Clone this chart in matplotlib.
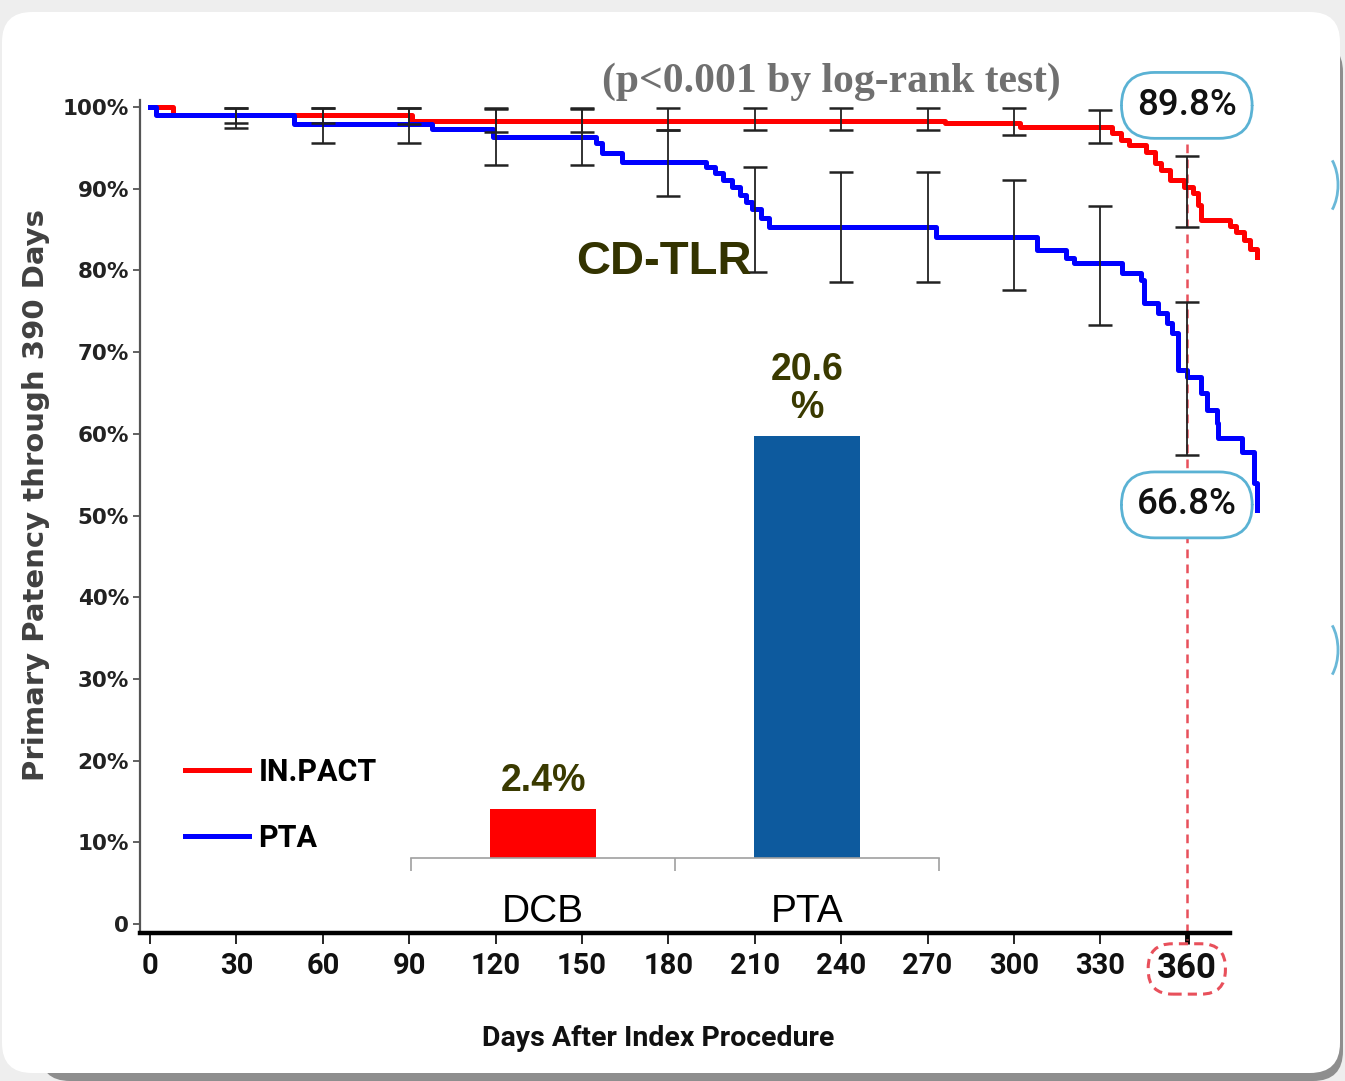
import matplotlib
matplotlib.use('Agg')
import matplotlib.pyplot as plt
from matplotlib.patches import FancyBboxPatch, Arc
from matplotlib.transforms import IdentityTransform

# Kaplan-Meier primary patency (%), step points
inpact_days = [0, 8, 91, 276, 302, 334, 337, 340, 346, 349, 351, 354, 359, 362,
               364, 365, 375, 377, 380, 382, 384.5]
inpact_pct = [100, 99.0, 98.3, 98.0, 97.6, 96.8, 96.0, 95.3, 94.5, 93.2, 92.3, 91.1,
              90.2, 89.5, 88.0, 86.2, 85.4, 84.7, 83.7, 82.6, 81.6]
pta_days = [0, 2, 50, 98, 119, 155, 157, 164, 193, 196, 199, 202, 205, 207, 209, 212,
            215, 273, 308, 318, 321, 337.5, 344, 345, 350, 353, 355, 357, 360, 365,
            367, 370.5, 371, 379, 383.5, 384.5]
pta_pct = [100, 99.0, 97.9, 97.3, 96.3, 95.6, 94.4, 93.3, 92.6, 91.9, 91.1, 90.2, 89.2,
           88.4, 87.5, 86.4, 85.3, 84.1, 82.5, 81.5, 80.9, 79.7, 78.8, 76.0, 74.8,
           73.6, 72.3, 67.8, 67.0, 65.0, 62.9, 61.3, 59.5, 57.8, 54.0, 50.7]

# confidence interval bars every 30 days
ci_days = [30, 60, 90, 120, 150, 180, 210, 240, 270, 300, 330, 360]
inpact_lo = [98.0, 98.0, 97.9, 97.0, 97.0, 97.2, 97.2, 97.2, 97.2, 96.6, 95.6, 85.3]
inpact_hi = [99.9, 99.9, 99.9, 99.9, 99.9, 99.9, 99.9, 99.9, 99.9, 99.9, 99.6, 94.0]
pta_lo = [97.4, 95.6, 95.6, 92.9, 92.9, 89.1, 79.8, 78.6, 78.6, 77.6, 73.3, 57.4]
pta_hi = [99.9, 99.9, 99.9, 99.8, 99.8, 97.2, 92.6, 92.0, 92.0, 91.1, 87.9, 76.1]

km_at_360 = ['89.8%', '66.8%']

# CD-TLR inset
tlr_groups = ['DCB', 'PTA']
tlr_values = [2.4, 20.6]
tlr_labels = ['2.4%', '20.6\n%']

x_ticks = list(range(0, 361, 30))
y_ticks = list(range(0, 101, 10))
y_ticklabels = ['0'] + ['%d%%' % v for v in y_ticks[1:]]

NARROW = ['Liberation Sans Narrow', 'Roboto']
W, H = 1345, 1081


def fx(x):
    return x / W


def fy(y):
    return 1 - y / H


fig = plt.figure(figsize=(W / 100, H / 100), dpi=100)
fig.patch.set_facecolor('#eeeeee')

# slide card with a shadow
fig.patches.append(FancyBboxPatch((40, 0), 1303, 1039, boxstyle='round,pad=0,rounding_size=30',
                                  fc='#8e8e8e', ec='none', transform=IdentityTransform(),
                                  figure=fig, zorder=-10))
fig.patches.append(FancyBboxPatch((2, 8), 1338, 1061, boxstyle='round,pad=0,rounding_size=30',
                                  fc='white', ec='none', transform=IdentityTransform(),
                                  figure=fig, zorder=-9))
for cy in (185, 650):
    fig.patches.append(Arc((1318, H - cy), 40, 70, theta1=-60, theta2=60, color='#6ab8d8',
                           lw=2, transform=IdentityTransform(), figure=fig, zorder=-8))

ax = fig.add_axes([fx(140), fy(933), fx(1230) - fx(140), fy(100) - fy(933)])
ax.set_facecolor('none')
ax.set_xlim(-3.5, 375)
ax.set_ylim(-1.1, 100.86)

ax.step(inpact_days, inpact_pct, where='post', color='#ff0000', lw=3.6, clip_on=False,
        zorder=3, label='IN.PACT')
ax.step(pta_days, pta_pct, where='post', color='#0000ff', lw=3.6, clip_on=False,
        zorder=3, label='PTA')

for lo, hi in ((inpact_lo, inpact_hi), (pta_lo, pta_hi)):
    mid = [(a + b) / 2 for a, b in zip(lo, hi)]
    err = [(b - a) / 2 for a, b in zip(lo, hi)]
    ax.errorbar(ci_days, mid, yerr=err, fmt='none', ecolor='#222222', elinewidth=1.3,
                capsize=8.5, capthick=1.8, zorder=4)

# 360-day marker
ax.plot([360, 360], [95.5, -2.0], ls=(0, (3.5, 2.5)), color='#e8505b', lw=1.8,
        clip_on=False, zorder=2)
box = dict(boxstyle='round,pad=0.42,rounding_size=0.9', fc='white', ec='#5ab2d4', lw=2)
ax.text(360, 100.2, km_at_360[0], ha='center', va='center', fontsize=26.5,
        family=NARROW, fontweight='medium', color='#111111', bbox=box, zorder=6,
        clip_on=False)
ax.text(360, 51.3, km_at_360[1], ha='center', va='center', fontsize=26.5,
        family=NARROW, fontweight='medium', color='#111111', bbox=box, zorder=6,
        clip_on=False)

# axes styling
for s in ('top', 'right'):
    ax.spines[s].set_visible(False)
ax.spines['left'].set_color('#555555')
ax.spines['left'].set_linewidth(1.6)
ax.spines['bottom'].set_color('black')
ax.spines['bottom'].set_linewidth(3.2)

ax.set_yticks(y_ticks)
ax.set_yticklabels(y_ticklabels, family='DejaVu Sans', fontweight='bold', fontsize=15.5,
                   color='#222222')
ax.tick_params(axis='y', length=5, width=1.3, color='#555555', pad=3)
ax.set_xticks(x_ticks)
ax.set_xticklabels([str(v) for v in x_ticks], family=NARROW, fontweight='bold',
                   fontsize=21, color='#111111')
ax.tick_params(axis='x', length=8, width=1.2, color='black', pad=6)
last = ax.xaxis.get_major_ticks()[-1]
last.tick1line.set_markeredgewidth(3.5)
lab = last.label1
lab.set_fontsize(25)
lab.set_bbox(dict(boxstyle='round,pad=0.25,rounding_size=0.7', fc='none', ec='#e8505b',
                  ls=(0, (3, 2)), lw=2.2))

ax.legend(loc='upper left', bbox_to_anchor=(fx(185), fy(757)), bbox_transform=fig.transFigure,
          frameon=False, prop=dict(family=NARROW, weight='bold', size=22),
          handlelength=2.1, handletextpad=0.3, labelspacing=1.18, borderpad=0, borderaxespad=0)

fig.text(fx(36), fy(495), 'Primary Patency through 390 Days', rotation=90, ha='center',
         va='center', family='DejaVu Sans', fontweight='bold', fontsize=21, color='#404040')
fig.text(fx(658), fy(1038), 'Days After Index Procedure', ha='center', va='center',
         family=NARROW, fontweight='bold', fontsize=20.5, color='#111111')
fig.text(fx(831), fy(82), '(p<0.001 by log-rank test)', ha='center', va='center',
         family='Liberation Serif', fontweight='bold', fontsize=30, color='#707070')
fig.text(fx(664), fy(262), 'CD-TLR', ha='center', va='center', family='Liberation Sans',
         fontweight='bold', fontsize=34, color='#333300')

# inset bar chart
ax2 = fig.add_axes([fx(411), fy(858), fx(939) - fx(411), fy(346) - fy(858)])
ax2.patch.set_visible(False)
ax2.set_xlim(-0.5, 1.5)
ax2.set_ylim(0, 25)
bars = ax2.bar(range(len(tlr_groups)), tlr_values, width=0.4, color=['#ff0000', '#0d5a9e'])
for b, t in zip(bars, tlr_labels):
    ax2.annotate(t, (b.get_x() + b.get_width() / 2, b.get_height()), xytext=(0, 7),
                 textcoords='offset points', ha='center', va='bottom', fontsize=27,
                 fontweight='bold', family='Liberation Sans', color='#3a3a00',
                 linespacing=1.1)
for s in ('top', 'right', 'left'):
    ax2.spines[s].set_visible(False)
ax2.spines['bottom'].set_color('#a0a0a0')
ax2.spines['bottom'].set_linewidth(1.2)
ax2.set_yticks([])
ax2.set_xticks(range(len(tlr_groups)))
ax2.set_xticklabels(tlr_groups, family='Liberation Sans', fontsize=28, color='black')
ax2.set_xticks([-0.5, 0.5, 1.5], minor=True)
ax2.tick_params(axis='x', which='major', length=0, pad=26)
ax2.tick_params(axis='x', which='minor', length=9, width=1.2, color='#a0a0a0')

fig.savefig('out.png', dpi=100, facecolor=fig.get_facecolor())
